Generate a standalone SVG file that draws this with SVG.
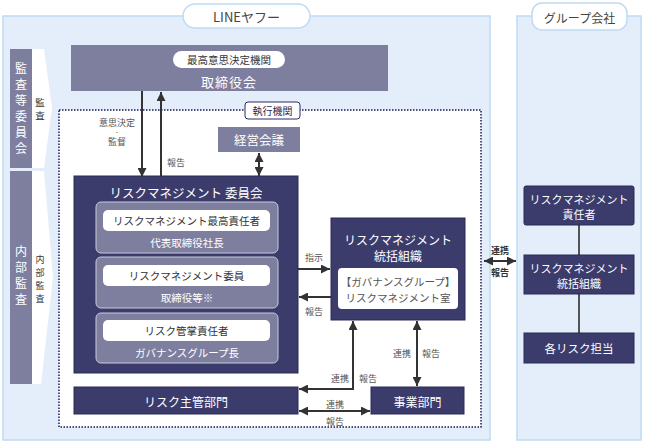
<svg xmlns="http://www.w3.org/2000/svg" width="645" height="446" viewBox="0 0 645 446">
<defs>
<style>
text{font-family:"Noto Sans CJK JP","Noto Sans",sans-serif;text-anchor:middle;dominant-baseline:central}
.panel{fill:#e4eefa;stroke:#bfdaf4;stroke-width:1.5}
.tag{fill:#fff;stroke:#bfdaf4;stroke-width:1.5}
.grey{fill:#7e7e9e}
.navy{fill:#3c3c6c;stroke:#2a2a58;stroke-width:1}
.sub{fill:#7e7e9e;stroke:#c9c9dc;stroke-width:1}
.pill{fill:#fff}
.w{fill:#fff}
.d{fill:#333}
.g{fill:#555}
.arr{stroke:#333;stroke-width:2;fill:none}
.ln{stroke:#222;stroke-width:1.5;fill:none}
</style>
<marker id="ah" viewBox="0 0 10 10" refX="10" refY="5" markerWidth="9" markerHeight="9" markerUnits="userSpaceOnUse" orient="auto-start-reverse">
<path d="M0,0 L10,5 L0,10 z" fill="#333"/>
</marker>
</defs>

<g id="panel-lineyahoo">
<rect class="panel" x="3" y="16" width="487" height="424"/>
<rect class="tag" x="183" y="4" width="127" height="24" rx="12"/>
<text x="246.5" y="16.5" font-size="13" fill="#444">LINEヤフー</text>
</g>

<g id="panel-group">
<rect class="panel" x="517" y="16" width="124" height="424"/>
<rect class="tag" x="532" y="3" width="95" height="27" rx="10"/>
<text x="579.5" y="17" font-size="12" fill="#444">グループ会社</text>
</g>

<g id="kansa-iinkai">
<rect class="grey" x="10" y="49" width="22" height="119"/>
<polygon class="w" points="32,49 44,49 52,108 44,168 32,168"/>
<text class="w" x="21" y="67" font-size="12">監</text>
<text class="w" x="21" y="83" font-size="12">査</text>
<text class="w" x="21" y="99" font-size="12">等</text>
<text class="w" x="21" y="115" font-size="12">委</text>
<text class="w" x="21" y="131" font-size="12">員</text>
<text class="w" x="21" y="147" font-size="12">会</text>
<text class="d" x="40" y="102" font-size="9.5">監</text>
<text class="d" x="40" y="115" font-size="9.5">査</text>
</g>

<g id="naibu-kansa">
<rect class="grey" x="10" y="171" width="22" height="213"/>
<polygon class="w" points="32,171 44,171 53,277 41,384 32,384"/>
<text class="w" x="21" y="250" font-size="12">内</text>
<text class="w" x="21" y="266" font-size="12">部</text>
<text class="w" x="21" y="282" font-size="12">監</text>
<text class="w" x="21" y="298" font-size="12">査</text>
<text class="d" x="40" y="259" font-size="9">内</text>
<text class="d" x="40" y="272" font-size="9">部</text>
<text class="d" x="40" y="285" font-size="9">監</text>
<text class="d" x="40" y="298" font-size="9">査</text>
</g>

<g id="exec-frame">
<rect x="59" y="110" width="422" height="317" fill="#fff" stroke="#1a1a5a" stroke-width="1.5" stroke-dasharray="1.5,1.5"/>
<rect x="245" y="102" width="55" height="17" rx="3" fill="#fff" stroke="#2a2a66" stroke-width="1"/>
<text x="272.5" y="110.5" font-size="10" fill="#2a2a55">執行機関</text>
</g>

<g id="torishimariyakukai">
<rect class="grey" x="71" y="45" width="317" height="46"/>
<rect class="pill" x="173" y="51" width="112" height="17" rx="8.5"/>
<text class="d" x="229" y="59.5" font-size="10.5">最高意思決定機関</text>
<text class="w" x="229" y="81" font-size="13" letter-spacing="1">取締役会</text>
</g>

<g id="keiei-kaigi">
<rect class="grey" x="218" y="127" width="82" height="25"/>
<text class="w" x="259" y="139.5" font-size="12.5">経営会議</text>
</g>

<g id="rm-iinkai">
<rect class="navy" x="74" y="176" width="224" height="197"/>
<text class="w" x="186" y="192" font-size="12.5">リスクマネジメント 委員会</text>
<rect class="sub" x="96" y="202" width="182" height="51" rx="5"/>
<rect class="pill" x="103" y="210" width="167" height="21" rx="5"/>
<text class="d" x="186.5" y="220.5" font-size="10.5">リスクマネジメント最高責任者</text>
<text class="w" x="187" y="242" font-size="10.5">代表取締役社長</text>
<rect class="sub" x="96" y="257" width="182" height="51" rx="5"/>
<rect class="pill" x="103" y="265" width="167" height="21" rx="5"/>
<text class="d" x="186.5" y="275.5" font-size="10.5">リスクマネジメント委員</text>
<text class="w" x="187" y="297.5" font-size="10.5">取締役等※</text>
<rect class="sub" x="96" y="313" width="182" height="50" rx="5"/>
<rect class="pill" x="103" y="320" width="167" height="21" rx="5"/>
<text class="d" x="186.5" y="330.5" font-size="10.5">リスク管掌責任者</text>
<text class="w" x="187" y="352" font-size="10.5">ガバナンスグループ長</text>
</g>

<g id="rm-toukatsu">
<rect class="navy" x="331" y="218" width="134" height="102"/>
<text class="w" x="398" y="239" font-size="12">リスクマネジメント</text>
<text class="w" x="398" y="255" font-size="12">統括組織</text>
<rect class="pill" x="338" y="268" width="120" height="41" rx="4"/>
<text x="398" y="281" font-size="10.5" fill="#555">【ガバナンスグループ】</text>
<text x="398" y="297" font-size="10.5" fill="#555">リスクマネジメント室</text>
</g>

<g id="risk-shukan">
<rect class="navy" x="74" y="387" width="224" height="27"/>
<text class="w" x="186" y="401" font-size="12">リスク主管部門</text>
</g>

<g id="jigyo">
<rect class="navy" x="371" y="387" width="93" height="27"/>
<text class="w" x="417.5" y="401" font-size="12">事業部門</text>
</g>

<g id="g-sekininsha">
<rect class="navy" x="524" y="186" width="110" height="39" rx="2"/>
<text class="w" x="579" y="199" font-size="11">リスクマネジメント</text>
<text class="w" x="579" y="214" font-size="11">責任者</text>
</g>
<g id="g-toukatsu">
<rect class="navy" x="524" y="255" width="110" height="39"/>
<text class="w" x="579" y="268" font-size="11">リスクマネジメント</text>
<text class="w" x="579" y="283" font-size="11">統括組織</text>
</g>
<g id="g-tanto">
<rect class="navy" x="524" y="333" width="110" height="30"/>
<text class="w" x="579" y="348" font-size="11.5">各リスク担当</text>
</g>

<g id="connectors">
<line class="arr" x1="142" y1="91" x2="142" y2="177" marker-end="url(#ah)"/>
<line class="arr" x1="161" y1="176" x2="161" y2="92" marker-end="url(#ah)"/>
<line class="arr" x1="259" y1="153" x2="259" y2="176" marker-start="url(#ah)" marker-end="url(#ah)"/>
<line class="arr" x1="298" y1="269" x2="330" y2="269" marker-end="url(#ah)"/>
<line class="arr" x1="331" y1="297" x2="299" y2="297" marker-end="url(#ah)"/>
<polyline class="arr" points="299,389 353,389 353,321" marker-start="url(#ah)" marker-end="url(#ah)"/>
<line class="arr" x1="417" y1="321" x2="417" y2="386" marker-start="url(#ah)" marker-end="url(#ah)"/>
<line class="arr" x1="299" y1="411" x2="370" y2="411" marker-start="url(#ah)" marker-end="url(#ah)"/>
<line class="arr" x1="484" y1="261" x2="516" y2="261" marker-start="url(#ah)" marker-end="url(#ah)"/>
<line class="ln" x1="579" y1="225" x2="579" y2="255"/>
<line class="ln" x1="579" y1="294" x2="579" y2="333"/>
<text class="g" x="117" y="122" font-size="9">意思決定</text>
<text class="g" x="117" y="131.5" font-size="5">・</text>
<text class="g" x="117" y="141" font-size="9">監督</text>
<text class="g" x="176" y="162" font-size="9">報告</text>
<text class="g" x="314" y="257" font-size="9">指示</text>
<text class="g" x="314" y="311" font-size="9">報告</text>
<text class="g" x="340" y="378" font-size="9">連携</text>
<text class="g" x="368" y="378" font-size="9">報告</text>
<text class="g" x="402" y="353" font-size="9">連携</text>
<text class="g" x="431" y="353" font-size="9">報告</text>
<text class="g" x="335" y="404" font-size="9">連携</text>
<text class="g" x="335" y="421" font-size="9">報告</text>
<text x="500" y="250" font-size="9" font-weight="bold" fill="#333">連携</text>
<text x="500" y="272" font-size="9" font-weight="bold" fill="#333">報告</text>
</g>
</svg>
